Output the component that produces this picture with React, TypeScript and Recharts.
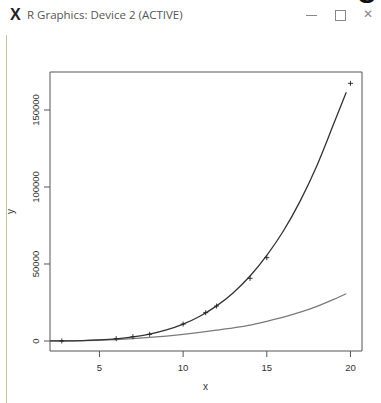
import { ComposedChart, Line, Scatter, XAxis, YAxis, ReferenceArea } from 'recharts';

// observed points (+ markers)
const obsX = [2.75, 6, 7, 8, 10, 11.35, 12, 14, 15, 20];
const obsY = [0, 1500, 2800, 4350, 11000, 18400, 22700, 40700, 54100, 167300];

// fitted curves
const curveX = [2.05, 3, 4, 5, 6, 7, 8, 9, 10, 11, 12, 13, 14, 15, 16, 17, 18, 19, 19.75];
const darkY = [20, 90, 280, 690, 1430, 2640, 4500, 7200, 11000, 16100, 22800, 31400, 42200, 55600, 71600, 91000, 114000, 141000, 161500];
const greyY = [30, 100, 250, 500, 900, 1500, 2300, 3200, 4300, 5600, 7000, 8500, 10300, 12800, 15500, 18700, 22500, 27000, 30700];

const xTicks = [5, 10, 15, 20];
const yTicks = [0, 50000, 100000, 150000];

const xDomain: [number, number] = [2.044, 20.69];
const yDomain: [number, number] = [-6494, 174675];

const points = obsX.map((x, i) => ({ x, y: obsY[i] }));
const darkData = curveX.map((x, i) => ({ x, y: darkY[i] }));
const greyData = curveX.map((x, i) => ({ x, y: greyY[i] }));

const font = '"Liberation Sans", Arial, sans-serif';

const Plus = (props: any) => {
	const { cx, cy } = props;
	return (
		<g stroke='#222' strokeWidth={0.9}>
			<line x1={cx - 2.5} y1={cy} x2={cx + 2.5} y2={cy} />
			<line x1={cx} y1={cy - 2.5} x2={cx} y2={cy + 2.5} />
		</g>
	);
};

const YTick = (props: any) => {
	const { x, y, payload } = props;
	return (
		<text transform={`translate(${x},${y}) rotate(-90)`} textAnchor='middle' fontSize={9.5} fill='#333' fontFamily={font}>
			{payload.value}
		</text>
	);
};

const App = () => {
	return (
		<div style={{ position: 'absolute', left: 0, top: 0, width: 381, height: 403, background: '#fff', overflow: 'hidden' }}>
			{/* window chrome */}
			<div style={{ position: 'absolute', left: 356, top: -42, fontSize: 40, lineHeight: '46px', fontFamily: font, color: '#111' }}>g</div>
			<div style={{ position: 'absolute', left: 10, top: 6, fontSize: 16, fontWeight: 'bold', fontFamily: font, color: '#222' }}>X</div>
			<div style={{ position: 'absolute', left: 27, top: 7, fontSize: 11.5, fontFamily: '"Open Sans", sans-serif', color: '#555' }}>
				R Graphics: Device 2 (ACTIVE)
			</div>
			<div style={{ position: 'absolute', left: 306, top: 15, width: 11, height: 1, background: '#888' }} />
			<div style={{ position: 'absolute', left: 335, top: 10, width: 9, height: 9, border: '1px solid #888' }} />
			<div style={{ position: 'absolute', left: 363, top: 7, fontSize: 12, fontFamily: '"DejaVu Sans", sans-serif', color: '#888' }}>✕</div>
			<div style={{ position: 'absolute', left: 6, top: 35, width: 1, height: 368, background: '#c4c49a' }} />

			<div style={{ position: 'absolute', left: 0, top: 0 }}>
				<ComposedChart width={381} height={403} margin={{ top: 72, right: 19, bottom: 22, left: 0 }}>
					<XAxis
						dataKey='x'
						type='number'
						domain={xDomain}
						allowDataOverflow
						ticks={xTicks}
						axisLine={false}
						tickSize={6}
						tickMargin={7}
						height={30}
						stroke='#555'
						tick={{ fontSize: 9.5, fill: '#333', fontFamily: font }}
					/>
					<YAxis
						dataKey='y'
						type='number'
						domain={yDomain}
						allowDataOverflow
						ticks={yTicks}
						axisLine={false}
						tickSize={6}
						tickMargin={5}
						width={50}
						stroke='#555'
						tick={YTick}
					/>
					<ReferenceArea x1={xDomain[0]} x2={xDomain[1]} y1={yDomain[0]} y2={yDomain[1]} fill='none' stroke='#555' strokeWidth={1} fillOpacity={0} />
					<Line data={greyData} dataKey='y' type='monotone' stroke='#7a7a7a' strokeWidth={1.3} dot={false} isAnimationActive={false} />
					<Line data={darkData} dataKey='y' type='monotone' stroke='#333' strokeWidth={1.3} dot={false} isAnimationActive={false} />
					<Scatter data={points} dataKey='y' shape={Plus} isAnimationActive={false} />
				</ComposedChart>
			</div>

			<div style={{ position: 'absolute', left: 203, top: 381, fontSize: 10, fontFamily: font, color: '#333' }}>x</div>
			<div style={{ position: 'absolute', left: 8, top: 206, fontSize: 10, fontFamily: font, color: '#333', transform: 'rotate(-90deg)' }}>y</div>
		</div>
	);
};

export default App;
